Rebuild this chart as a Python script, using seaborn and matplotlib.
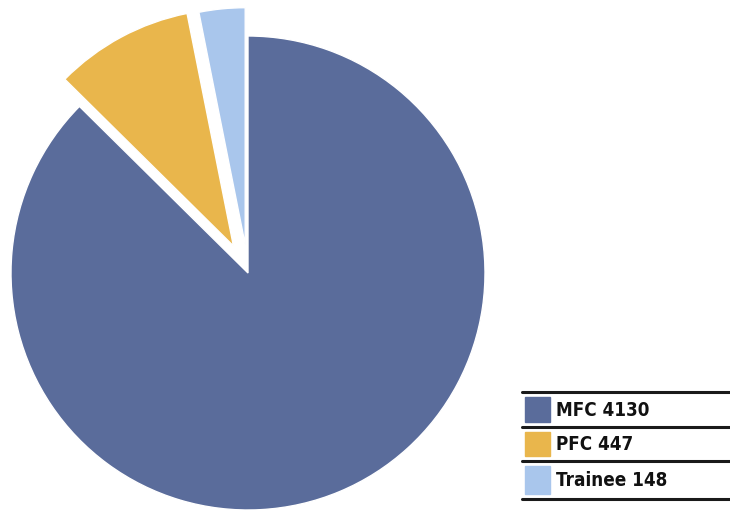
import matplotlib
matplotlib.use("Agg")
import matplotlib.pyplot as plt
import seaborn as sns
from matplotlib.lines import Line2D

categories = ["MFC", "PFC", "Trainee"]
values = [4130, 447, 148]
colors = ["#5a6c9b", "#e9b64c", "#a9c6ec"]
explode = [0.0, 0.13, 0.12]

sns.set_theme(style="white")
plt.rcParams['font.family'] = ['DejaVu Sans']

W, H = 730, 514
fig = plt.figure(figsize=(W / 100, H / 100), dpi=100)
cx, cy, r = 248, 273, 237
ax = fig.add_axes([(cx - r) / W, (H - cy - r) / H, 2 * r / W, 2 * r / H])
wedges, _ = ax.pie(values, colors=colors, startangle=90, counterclock=False,
                   explode=explode, radius=1.0)
for w in wedges:
    w.set_clip_on(False)
ax.set_xlim(-1, 1)
ax.set_ylim(-1, 1)
ax.set_aspect("equal")
ax.axis("off")

# legend table
x0, x1 = 522 / W, 730 / W
line_ys = [392, 427, 461, 499]
for y in line_ys:
    fig.add_artist(Line2D([x0, x1], [1 - y / H, 1 - y / H], color="#1a1a1a", lw=2.2))
for i, (c, v, col) in enumerate(zip(categories, values, colors)):
    top, bot = line_ys[i], line_ys[i + 1]
    ymid = (top + bot) / 2
    box_h = (bot - top) - 10
    fig.add_artist(plt.Rectangle((525 / W, 1 - (ymid + box_h / 2) / H), 25 / W, box_h / H,
                                 color=col, transform=fig.transFigure))
    fig.text(556 / W, 1 - (ymid + 1) / H, f"{c} {v}", fontsize=13.5, fontweight="bold",
             fontstretch="condensed", va="center", ha="left", color="#111111")

fig.savefig("out.png", dpi=100)
